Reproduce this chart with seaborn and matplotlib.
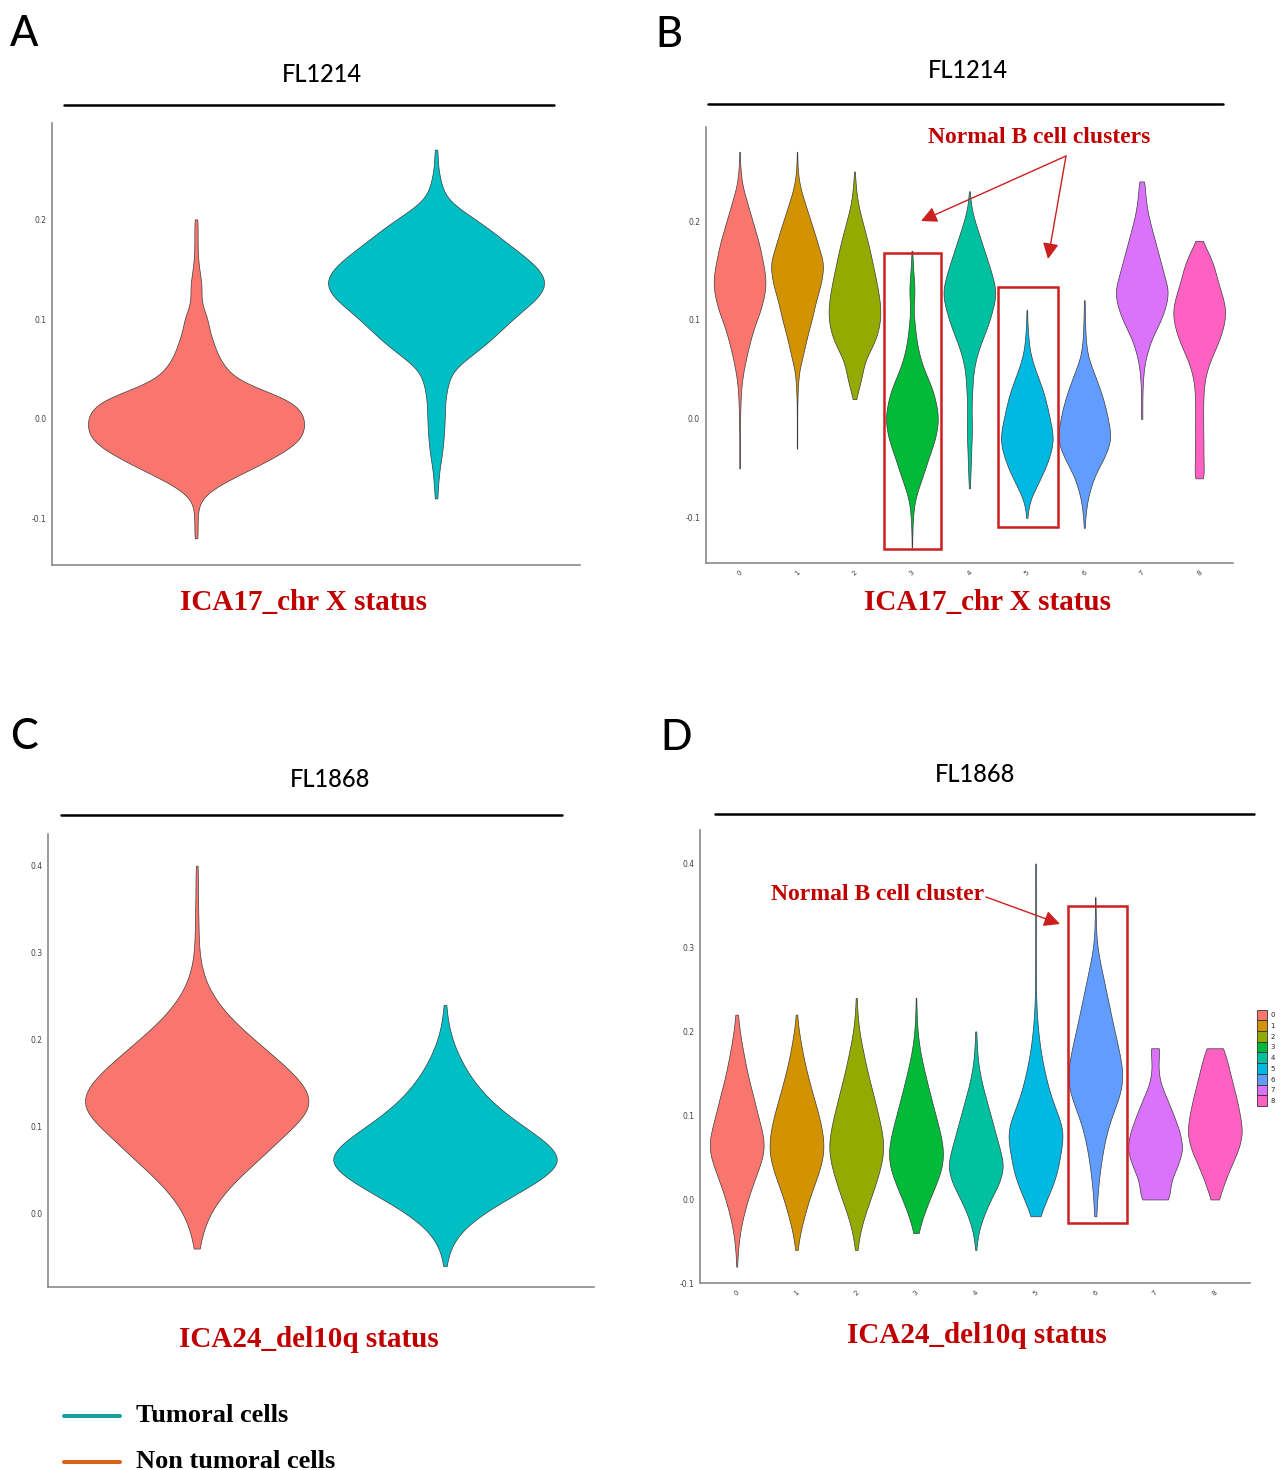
import numpy as np
import pandas as pd
import matplotlib
matplotlib.use("Agg")
import matplotlib.pyplot as plt
import seaborn as sns
from matplotlib.patches import Rectangle, Patch, FancyArrowPatch
from matplotlib.lines import Line2D
from matplotlib.ticker import FormatStrFormatter

levels_fl1214 = [-0.13, -0.12, -0.11, -0.10, -0.09, -0.08, -0.07, -0.06, -0.05, -0.04,
                 -0.03, -0.02, -0.01, 0.00, 0.01, 0.02, 0.03, 0.04, 0.05, 0.06,
                 0.07, 0.08, 0.09, 0.10, 0.11, 0.12, 0.13, 0.14, 0.15, 0.16,
                 0.17, 0.18, 0.19, 0.20, 0.21, 0.22, 0.23, 0.24, 0.25, 0.26, 0.27]
levels_fl1868 = [-0.08, -0.06, -0.04, -0.02, 0.00, 0.02, 0.04, 0.06, 0.08, 0.10,
                 0.12, 0.14, 0.16, 0.18, 0.20, 0.22, 0.24, 0.26, 0.28, 0.30,
                 0.32, 0.34, 0.36, 0.38, 0.40]

status_groups = ["Non tumoral", "Tumoral"]
clusters = ["0", "1", "2", "3", "4", "5", "6", "7", "8"]

# relative violin width (0-100) at each level
a_nontumoral = [0, 1.5, 1.5, 1.5, 2, 5, 16, 33, 52, 70, 86, 97, 100, 100, 96, 84, 58, 37, 28, 22,
                18, 15, 12, 11, 7, 4.5, 5.5, 4.5, 3, 2, 1.5, 1.5, 1.5, 1.5, 0, 0, 0, 0, 0, 0, 0]
a_tumoral = [0, 0, 0, 0, 0, 1.5, 1.5, 2.5, 3, 5, 6, 7, 7.5, 8, 8, 8.5, 10, 12, 16, 28,
             40, 51, 60, 70, 80, 92, 99, 100, 94, 84, 72, 60, 49, 36, 22, 10, 6, 4, 2, 1.5, 1.5]

b_c0 = [0, 0, 0, 0, 0, 0, 0, 0, 1, 1, 1, 1, 1.5, 2, 3, 4, 6, 10, 16, 24,
        32, 42, 52, 66, 80, 90, 98, 100, 95, 88, 80, 72, 60, 50, 38, 28, 16, 8, 4, 2, 1]
b_c1 = [0, 0, 0, 0, 0, 0, 0, 0, 0, 0, 1, 1, 1, 1, 1, 1.5, 3, 5, 9, 19,
        27, 36, 45, 56, 64, 73, 84, 94, 99, 100, 86, 76, 64, 52, 40, 28, 16, 8, 3, 1.5, 1]
b_c2 = [0, 0, 0, 0, 0, 0, 0, 0, 0, 0, 0, 0, 0, 0, 0, 6, 16, 26, 33, 42,
        62, 80, 92, 98, 100, 96, 90, 83, 75, 67, 59, 50, 40, 30, 20, 12, 7, 4, 1.5, 0, 0]
b_c3 = [1, 1.5, 2, 4, 7, 13, 25, 38, 51, 62, 76, 88, 96, 100, 96, 88, 78, 62, 46, 33,
        24, 17, 13, 9, 6, 8, 11, 8, 5, 3, 1.5, 0, 0, 0, 0, 0, 0, 0, 0, 0, 0]
b_c4 = [0, 0, 0, 0, 0, 0, 2, 3.5, 5, 6, 7, 9, 10, 9, 8, 9, 11, 13, 16, 24,
        34, 48, 63, 76, 86, 96, 100, 90, 80, 68, 56, 44, 32, 20, 10, 4, 1.5, 0, 0, 0, 0]
b_c5 = [0, 0, 0, 2, 6, 16, 34, 52, 70, 84, 95, 100, 96, 88, 80, 71, 60, 46, 32, 20,
        11, 7, 4, 2, 1.5, 0, 0, 0, 0, 0, 0, 0, 0, 0, 0, 0, 0, 0, 0, 0, 0]
b_c6 = [0, 0, 2, 4, 8, 14, 24, 36, 54, 74, 90, 100, 97, 90, 82, 72, 60, 46, 32, 18,
        10, 6, 4, 3, 2, 1.5, 0, 0, 0, 0, 0, 0, 0, 0, 0, 0, 0, 0, 0, 0, 0]
b_c7 = [0, 0, 0, 0, 0, 0, 0, 0, 0, 0, 0, 0, 0, 3, 2, 2.5, 3, 5, 8, 14,
        24, 36, 54, 72, 86, 96, 100, 90, 80, 70, 60, 50, 40, 30, 22, 16, 13, 10, 0, 0, 0]
b_c8 = [0, 0, 0, 0, 0, 0, 0, 22, 16, 16, 16, 16, 15, 15, 15, 15, 17, 20, 30, 42,
        60, 76, 88, 97, 100, 92, 80, 68, 60, 50, 30, 12, 0, 0, 0, 0, 0, 0, 0, 0, 0]

c_nontumoral = [0, 0, 2, 5, 10, 20, 33, 50, 65, 80, 98, 95, 82, 65, 48, 31, 18, 9, 4, 2,
                1.5, 1.5, 1, 1, 1]
c_tumoral = [0, 1, 4, 13, 31, 56, 82, 100, 88, 66, 46, 31, 20, 12, 6, 2.5, 1, 0, 0, 0,
             0, 0, 0, 0, 0]

d_c0 = [1, 4, 10, 22, 38, 57, 80, 100, 90, 72, 60, 43, 31, 20, 10, 4, 0, 0, 0, 0, 0, 0, 0, 0, 0]
d_c1 = [0, 3, 12, 28, 44, 66, 88, 100, 93, 80, 62, 46, 30, 19, 8, 1.5, 0, 0, 0, 0, 0, 0, 0, 0, 0]
d_c2 = [0, 3, 12, 28, 50, 70, 88, 100, 92, 78, 64, 48, 34, 22, 10, 4, 1.5, 0, 0, 0, 0, 0, 0, 0, 0]
d_c3 = [0, 0, 7, 24, 47, 72, 94, 96, 84, 68, 53, 38, 24, 12, 5, 2, 1, 0, 0, 0, 0, 0, 0, 0, 0]
d_c4 = [0, 1, 8, 26, 52, 84, 100, 84, 68, 52, 36, 20, 9, 4, 2, 0, 0, 0, 0, 0, 0, 0, 0, 0, 0]
d_c5 = [0, 0, 0, 14, 36, 64, 78, 84, 100, 76, 52, 38, 25, 15, 9, 4, 2, 1.5, 1, 1, 1, 1, 1, 1, 1]
d_c6 = [0, 0, 0, 4, 6, 11, 18, 27, 38, 56, 82, 100, 92, 80, 66, 54, 42, 30, 18, 5, 2, 1.5, 1, 0, 0]
d_c7 = [0, 0, 0, 0, 55, 52, 80, 100, 88, 66, 42, 16, 10, 18, 0, 0, 0, 0, 0, 0, 0, 0, 0, 0, 0]
d_c8 = [0, 0, 0, 0, 14, 34, 58, 86, 100, 90, 78, 62, 48, 32, 0, 0, 0, 0, 0, 0, 0, 0, 0, 0, 0]

status_colors = ["#F8766D", "#00BFC4"]
cluster_colors = ["#F8766D", "#D39200", "#93AA00", "#00BA38", "#00C19F",
                  "#00B9E3", "#619CFF", "#DB72FB", "#FF61C3"]

RED = "#c00000"
BOX = "#cc1f1f"
W, H = 1287, 1470


def fx(x):
    return x / W


def fy(y):
    return 1 - y / H


def cells(levels, widths):
    n = np.rint(np.asarray(widths, dtype=float) * 2).astype(int)
    return np.repeat(np.asarray(levels[:len(n)]), n[:len(levels)])


def frame(groups, levels, width_lists):
    parts = [pd.DataFrame({"group": g, "score": cells(levels, w)})
             for g, w in zip(groups, width_lists)]
    return pd.concat(parts, ignore_index=True)


def violins(ax, df, groups, colors, bw):
    sns.violinplot(data=df, x="group", y="score", hue="group", order=groups,
                   hue_order=groups, palette=colors, saturation=1, legend=False,
                   cut=0, density_norm="width", width=0.9, inner=None,
                   linewidth=0.5, linecolor="#3c3c3c", bw_method=bw, ax=ax)


def style(ax, xlim, ylim, yticks, show_x):
    ax.set_xlim(*xlim)
    ax.set_ylim(*ylim)
    ax.set_yticks(yticks)
    ax.yaxis.set_major_formatter(FormatStrFormatter("%.1f"))
    ax.set_xlabel("")
    ax.set_ylabel("")
    for s in ["top", "right"]:
        ax.spines[s].set_visible(False)
    for s in ["left", "bottom"]:
        ax.spines[s].set_color("#8a8a8a")
        ax.spines[s].set_linewidth(1.2)
    ax.tick_params(length=2.5, width=0.7, color="#8a8a8a", labelsize=5.5,
                   labelcolor="#444444", pad=1.5)
    if show_x:
        plt.setp(ax.get_xticklabels(), rotation=45, ha="center", fontsize=5)
    else:
        ax.set_xticklabels([])


sns.set_style("white")
plt.rcParams["axes.unicode_minus"] = False

fig = plt.figure(figsize=(12.87, 14.70), dpi=100)
ax_a = fig.add_axes([0.0404, 0.6158, 0.4103, 0.3005])
ax_b = fig.add_axes([0.5483, 0.6167, 0.4098, 0.2969])
ax_c = fig.add_axes([0.0371, 0.1246, 0.4244, 0.3082])
ax_d = fig.add_axes([0.5441, 0.1269, 0.4272, 0.3088])

violins(ax_a, frame(status_groups, levels_fl1214, [a_nontumoral, a_tumoral]),
        status_groups, status_colors, 0.16)
violins(ax_b, frame(clusters, levels_fl1214,
                    [b_c0, b_c1, b_c2, b_c3, b_c4, b_c5, b_c6, b_c7, b_c8]),
        clusters, cluster_colors, 0.16)
violins(ax_c, frame(status_groups, levels_fl1868, [c_nontumoral, c_tumoral]),
        status_groups, status_colors, 0.28)
violins(ax_d, frame(clusters, levels_fl1868,
                    [d_c0, d_c1, d_c2, d_c3, d_c4, d_c5, d_c6, d_c7, d_c8]),
        clusters, cluster_colors, 0.28)

style(ax_a, (-0.6, 1.6), (-0.1466, 0.2967), [-0.1, 0.0, 0.1, 0.2], False)
style(ax_b, (-0.59, 8.59), (-0.146, 0.295), [-0.1, 0.0, 0.1, 0.2], True)
style(ax_c, (-0.6, 1.6), (-0.084, 0.4367), [0.0, 0.1, 0.2, 0.3, 0.4], False)
style(ax_d, (-0.61, 8.59), (-0.1, 0.4404), [-0.1, 0.0, 0.1, 0.2, 0.3, 0.4], True)

# cluster legend of panel D
handles = [Patch(facecolor=c, edgecolor="#333333", linewidth=0.6) for c in cluster_colors]
ax_d.legend(handles, clusters, loc="center left", bbox_to_anchor=(1.013, 0.497),
            frameon=False, fontsize=5, handlelength=1.4, handleheight=2.0,
            handletextpad=0.5, labelspacing=0.0, borderaxespad=0, borderpad=0)

# panel letters, sample titles and rules
for letter, x, y in [("A", 10, 46), ("B", 655, 47), ("C", 10, 749), ("D", 660, 750)]:
    fig.text(fx(x), fy(y), letter, fontsize=30, family="Lato", weight="medium",
             color="black", va="baseline", ha="left")
for name, x, y in [("FL1214", 322, 82), ("FL1214", 968, 78), ("FL1868", 330, 787), ("FL1868", 975, 782)]:
    fig.text(fx(x), fy(y), name, fontsize=17, family="Lato", weight="medium",
             color="black", va="baseline", ha="center")
for x0, x1, y in [(64, 554, 104.5), (708, 1223, 103.5), (61, 562, 815), (715, 1254, 814)]:
    fig.add_artist(Line2D([fx(x0), fx(x1)], [fy(y), fy(y)], color="black", lw=1.8))

# red axis captions
for text, x, y in [("ICA17_chr X status", 303, 610), ("ICA17_chr X status", 988, 610),
                   ("ICA24_del10q status", 309, 1347), ("ICA24_del10q status", 977, 1343)]:
    fig.text(fx(x), fy(y), text, fontsize=21, family="Liberation Serif", weight="bold",
             color=RED, va="baseline", ha="center")

# normal B cell annotations
fig.text(fx(1039), fy(143), "Normal B cell clusters", fontsize=17, family="Liberation Serif",
         weight="bold", color=RED, va="baseline", ha="center")
fig.text(fx(878), fy(900), "Normal B cell cluster", fontsize=17, family="Liberation Serif",
         weight="bold", color=RED, va="baseline", ha="center")
for start, tip in [((1066, 156), (921, 221)), ((1066, 156), (1048, 259)),
                   ((986, 897), (1060, 924))]:
    fig.add_artist(FancyArrowPatch(
        (fx(start[0]), fy(start[1])), (fx(tip[0]), fy(tip[1])), transform=fig.transFigure,
        arrowstyle="-|>", mutation_scale=24, color=BOX, lw=1.0, shrinkA=0, shrinkB=0))

for ax, x0, x1, y0, y1 in [(ax_b, 2.51, 3.50, -0.1316, 0.1677), (ax_b, 4.49, 5.54, -0.1093, 0.1334),
                           (ax_d, 5.545, 6.53, -0.028, 0.349)]:
    ax.add_patch(Rectangle((x0, y0), x1 - x0, y1 - y0, fill=False, edgecolor=BOX,
                           lw=1.8, clip_on=False, zorder=5))

# bottom legend
for color, label, y in [("#17a09a", "Tumoral cells", 1416), ("#d9621a", "Non tumoral cells", 1462)]:
    fig.add_artist(Line2D([fx(64), fx(120)], [fy(y), fy(y)], color=color, lw=2.9))
    fig.text(fx(136), fy(y + 5.5), label, fontsize=19, family="Liberation Serif", weight="bold",
             color="black", va="baseline", ha="left")

fig.savefig("out.png", dpi=100)
